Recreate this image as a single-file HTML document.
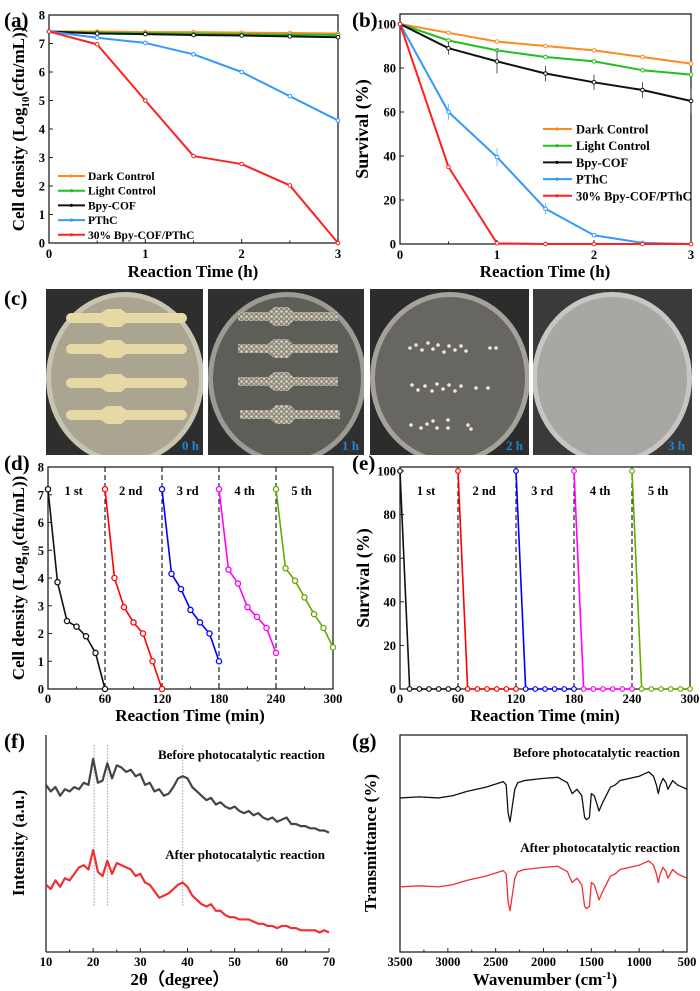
<!DOCTYPE html>
<html><head><meta charset="utf-8"><style>
html,body{margin:0;padding:0;background:#fff;}
svg{display:block;font-family:"Liberation Serif",serif;font-weight:bold;}
</style></head><body>
<svg id="fig" width="700" height="991" viewBox="0 0 700 991">
<defs>
<pattern id="speck" width="5" height="5" patternUnits="userSpaceOnUse"><rect width="5" height="5" fill="#8d8a7c"/><circle cx="1.5" cy="1.5" r="1.3" fill="#dcd8c6"/><circle cx="4" cy="3.8" r="1.1" fill="#cfcab6"/></pattern>
<clipPath id="c1"><rect x="46" y="289" width="157" height="166"/></clipPath>
<clipPath id="c2"><rect x="208" y="289" width="156" height="166"/></clipPath>
<clipPath id="c3"><rect x="370" y="289" width="159" height="166"/></clipPath>
<clipPath id="c4"><rect x="533" y="289" width="159" height="166"/></clipPath>
</defs>
<text x="4" y="27" font-size="21">(a)</text>
<text x="352" y="27" font-size="21">(b)</text>
<text x="4" y="305" font-size="21">(c)</text>
<text x="4" y="470" font-size="21">(d)</text>
<text x="352" y="470" font-size="21">(e)</text>
<text x="4" y="748" font-size="21">(f)</text>
<text x="352" y="748" font-size="21">(g)</text>

<g clip-path="url(#c1)">
<rect x="46" y="289" width="157" height="166" fill="#2e2e2e"/>
<ellipse cx="125" cy="378" rx="79" ry="86" fill="#c8c4b2"/>
<ellipse cx="125" cy="378" rx="74" ry="81" fill="#a9a591"/>
<g fill="#e6d9a4">
<path d="M71 313h30l6-4h14l5 4h56a5 5 0 0 1 0 10h-56l-5 4h-14l-6-4h-30a5 5 0 0 1 0-10z"/>
<path d="M71 344h30l6-4h14l5 4h56a5 5 0 0 1 0 10h-56l-5 4h-14l-6-4h-30a5 5 0 0 1 0-10z"/>
<path d="M71 378h30l6-4h14l5 4h56a5 5 0 0 1 0 10h-56l-5 4h-14l-6-4h-30a5 5 0 0 1 0-10z"/>
<path d="M71 410h30l6-4h14l5 4h56a5 5 0 0 1 0 10h-56l-5 4h-14l-6-4h-30a5 5 0 0 1 0-10z"/>
</g>
<text x="182" y="450" font-size="13" fill="#1b86d6">0 h</text>
</g>
<g clip-path="url(#c2)">
<rect x="208" y="289" width="156" height="166" fill="#303030"/>
<ellipse cx="287" cy="378" rx="79" ry="86" fill="#9c9a92"/>
<ellipse cx="287" cy="378" rx="74" ry="81" fill="#5e5e58"/>
<g fill="url(#speck)">
<path d="M238 312h30l6-5h14l5 5h45v9h-45l-5 5h-14l-6-5h-30z"/>
<path d="M238 344h30l6-5h14l5 5h45v9h-45l-5 5h-14l-6-5h-30z"/>
<path d="M238 377h30l6-5h14l5 5h45v9h-45l-5 5h-14l-6-5h-30z"/>
<path d="M240 410h30l6-5h14l5 5h45v9h-45l-5 5h-14l-6-5h-30z"/>
</g>
<text x="342" y="450" font-size="13" fill="#1b86d6">1 h</text>
</g>
<g clip-path="url(#c3)">
<rect x="370" y="289" width="159" height="166" fill="#2c2c2c"/>
<ellipse cx="450" cy="378" rx="80" ry="86" fill="#a4a29a"/>
<ellipse cx="450" cy="378" rx="75" ry="81" fill="#676660"/>
<g fill="#ece8d8">
<circle cx="410" cy="348" r="1.8"/><circle cx="416" cy="345" r="1.8"/><circle cx="422" cy="350" r="1.8"/><circle cx="428" cy="343" r="1.8"/><circle cx="433" cy="349" r="1.8"/><circle cx="438" cy="345" r="1.8"/><circle cx="444" cy="352" r="1.8"/><circle cx="449" cy="346" r="1.8"/><circle cx="455" cy="350" r="1.8"/><circle cx="461" cy="346" r="1.8"/><circle cx="466" cy="351" r="1.8"/><circle cx="490" cy="348" r="1.8"/><circle cx="496" cy="348" r="1.8"/>
<circle cx="412" cy="385" r="1.8"/><circle cx="418" cy="390" r="1.8"/><circle cx="425" cy="386" r="1.8"/><circle cx="432" cy="391" r="1.8"/><circle cx="437" cy="384" r="1.8"/><circle cx="443" cy="389" r="1.8"/><circle cx="449" cy="385" r="1.8"/><circle cx="455" cy="391" r="1.8"/><circle cx="461" cy="386" r="1.8"/><circle cx="476" cy="388" r="1.8"/><circle cx="488" cy="388" r="1.8"/>
<circle cx="411" cy="425" r="1.8"/><circle cx="421" cy="428" r="1.8"/><circle cx="427" cy="424" r="1.8"/><circle cx="433" cy="421" r="1.8"/><circle cx="437" cy="428" r="1.8"/><circle cx="448" cy="420" r="1.8"/><circle cx="448" cy="428" r="1.8"/><circle cx="468" cy="425" r="1.8"/><circle cx="471" cy="429" r="1.8"/>
</g>
<text x="506" y="450" font-size="13" fill="#1b86d6">2 h</text>
</g>
<g clip-path="url(#c4)">
<rect x="533" y="289" width="159" height="166" fill="#3a3a3a"/>
<ellipse cx="612" cy="378" rx="80" ry="86" fill="#c8c6c2"/>
<ellipse cx="612" cy="378" rx="75" ry="81" fill="#a9a7a4"/>
<text x="668" y="450" font-size="13" fill="#1b86d6">3 h</text>
</g>
<g id="charts"></g>
</svg>
<script>
const timeH = [0, 0.5, 1, 1.5, 2, 2.5, 3];
const aDark = [7.42, 7.42, 7.40, 7.40, 7.38, 7.37, 7.35];
const aLight = [7.42, 7.38, 7.36, 7.34, 7.32, 7.31, 7.30];
const aBpy = [7.42, 7.35, 7.33, 7.30, 7.28, 7.25, 7.22];
const aPThC = [7.42, 7.20, 7.02, 6.62, 6.00, 5.15, 4.30];
const aComp = [7.42, 6.97, 5.00, 3.05, 2.77, 2.02, 0.00];
const aTicksY = [0, 1, 2, 3, 4, 5, 6, 7, 8];
const hTicks = [0, 1, 2, 3];
const bDark = [100, 96, 92, 90, 88, 85, 82];
const bLight = [100, 92.5, 88, 85, 83, 79, 77];
const bBpy = [100, 89, 83, 77.5, 73.5, 70, 65];
const bPThC = [100, 60, 39.5, 16, 4, 0.5, 0];
const bComp = [100, 35, 0.3, 0, 0, 0, 0];
const bErrBpy = [0, 3, 5.5, 3.5, 3.5, 3.5, 5.5];
const bErrPThC = [0, 3.5, 4, 2.5, 0.5, 0, 0];
const bTicksY = [0, 20, 40, 60, 80, 100];
const seriesNames = ["Dark Control", "Light Control", "Bpy-COF", "PThC", "30% Bpy-COF/PThC"];
const seriesColors = ["#ff8a1c", "#20c020", "#111111", "#3399ff", "#ff2020"];
const cycleStep = [0, 10, 20, 30, 40, 50, 60];
const cycleStarts = [0, 60, 120, 180, 240];
const cycle1 = [7.2, 3.85, 2.45, 2.25, 1.9, 1.3, 0];
const cycle2 = [7.2, 4.0, 2.95, 2.4, 2.0, 1.0, 0];
const cycle3 = [7.2, 4.15, 3.6, 2.85, 2.4, 2.0, 1.0];
const cycle4 = [7.2, 4.3, 3.8, 2.95, 2.6, 2.2, 1.3];
const cycle5 = [7.2, 4.35, 3.9, 3.3, 2.7, 2.2, 1.5];
const survCycle = [100, 0, 0, 0, 0, 0, 0];
const cycleLabels = ["1 st", "2 nd", "3 rd", "4 th", "5 th"];
const cycleColors = ["#111111", "#ff0000", "#0000ff", "#ff00ff", "#66aa00"];
const minTicks = [0, 60, 120, 180, 240, 300];
const xrdStart = 10;
const xrdBefore = [77,74,76,72,75,74,76,75,78,77,89,78,79,87,80,86,85,83,84,81,82,77,78,74,75,72,73,76,80,81,80,76,74,72,70,71,68,69,67,66,67,65,64,65,63,64,62,61,62,60,61,62,59,59,58,58,57,57,56,56,55];
const xrdAfter = [31,29,33,30,34,33,36,39,40,38,47,37,35,42,36,41,40,39,38,35,36,32,31,28,25,26,27,29,31,32,30,26,24,22,21,22,19,19,17,16,16,15,15,15,14,13,13,12,12,11,12,12,11,11,10,10,10,10,9,10,9];
const xrdPeaks = [20.2, 23, 39];
const xrdTicks = [10, 20, 30, 40, 50, 60, 70];
const wn = [3500,3300,3100,2950,2800,2600,2420,2390,2370,2350,2330,2300,2270,2200,2000,1850,1750,1700,1650,1600,1570,1550,1520,1500,1470,1440,1420,1380,1300,1250,1200,1100,1000,950,900,850,820,800,780,750,720,700,650,600,550,500];
const irBefore = [71,71.5,71,72,74,76,78.5,77,64,60,66,75,78,79,80,80.5,78,73,75,72,62,61,62,73,72,68,65,69,76,77,79,80,81,82,83,81,77,73,77,80,78,75,79,77,76,75];
const irAfter = [30,30.5,30,31,33,35,37.5,36,23,19,25,34,37,38,39,39.5,37,32,34,31,21,20,21,32,31,27,24,28,35,36,38,39,40,41,42,40,36,32,36,39,37,34,38,36,35,34];
const wnTicks = [3500, 3000, 2500, 2000, 1500, 1000, 500];

const NS = "http://www.w3.org/2000/svg";
const root = document.getElementById("charts");
function mk(tag, attrs, parent) {
  const e = document.createElementNS(NS, tag);
  for (const k in attrs) e.setAttribute(k, attrs[k]);
  (parent || root).appendChild(e);
  return e;
}
function scale(d0, d1, r0, r1) { return v => r0 + (v - d0) / (d1 - d0) * (r1 - r0); }
function frame(g, x0, x1, y0, y1) {
  const r = mk("rect", {x: x0, y: y0, width: x1 - x0, height: y1 - y0, fill: "none", stroke: "#222", "stroke-width": 1.3}, g);
  
  
}
function xTicks(g, ticks, sx, yb, labY, minor) {
  ticks.forEach(t => {
    mk("line", {x1: sx(t), x2: sx(t), y1: yb, y2: yb - 4, stroke: "#222", "stroke-width": 1}, g);
    const tx = mk("text", {x: sx(t), y: labY, "font-size": 12.5, "text-anchor": "middle"}, g);
    tx.textContent = t;
    
    
  });
  (minor || []).forEach(t => mk("line", {x1: sx(t), x2: sx(t), y1: yb, y2: yb - 2.5, stroke: "#222", "stroke-width": 1}, g));
}
function yTicks(g, ticks, sy, xl, labels) {
  ticks.forEach(t => {
    mk("line", {x1: xl, x2: xl + 4, y1: sy(t), y2: sy(t), stroke: "#222", "stroke-width": 1}, g);
    if (labels) {
      const tx = mk("text", {x: xl - 4, y: sy(t) + 4.5, "font-size": 12.5, "text-anchor": "end"}, g);
      tx.textContent = t;
      
      
    }
  });
}
function title(g, txt, x, y, rot, name, fs) {
  const t = mk("text", {x: x, y: y, "font-size": fs || 17, "text-anchor": "middle"}, g);
  if (rot) t.setAttribute("transform", `rotate(-90 ${x} ${y})`);
  t.innerHTML = txt;
  
  
  return t;
}
function poly(g, xs, ys, sx, sy, color, w) {
  return mk("polyline", {points: xs.map((x, i) => sx(x) + "," + sy(ys[i])).join(" "), fill: "none", stroke: color, "stroke-width": w || 1.8, "stroke-linejoin": "round"}, g);
}

(function () {
  const g = mk("g", {});
  
  
  const sx = scale(0, 3, 49, 338), sy = scale(0, 8, 243, 15);
  frame(g, 49, 338, 15, 243);
  xTicks(g, hTicks, sx, 243, 258, [0.5, 1.5, 2.5]);
  yTicks(g, aTicksY, sy, 49, true);
  title(g, "Reaction Time (h)", 193, 277, false, "x-axis-title-a");
  title(g, 'Cell density (Log<tspan font-size="11" dy="5">10</tspan><tspan dy="-5">(cfu/mL))</tspan>', 24, 129, true, "y-axis-title-a");
  const data = [aDark, aLight, aBpy, aPThC, aComp];
  data.forEach((d, i) => {
    const s = poly(g, timeH, d, sx, sy, seriesColors[i], 2);
    
    
    d.forEach((v, j) => {
      const c = mk("circle", {cx: sx(timeH[j]), cy: sy(v), r: 1.8, fill: "#fff", stroke: seriesColors[i], "stroke-width": 1}, g);
      
      
    });
  });
  seriesNames.forEach((n, i) => {
    const y = 176 + i * 14.7;
    mk("line", {x1: 58, x2: 85, y1: y, y2: y, stroke: seriesColors[i], "stroke-width": 2}, g);
    mk("circle", {cx: 71.5, cy: y, r: 1.6, fill: seriesColors[i]}, g);
    const t = mk("text", {x: 88, y: y + 4, "font-size": 11.5}, g);
    t.textContent = n;
    
    
  });
})();

(function () {
  const g = mk("g", {});
  
  
  const sx = scale(0, 3, 400, 691), sy = scale(0, 100, 244, 24);
  frame(g, 400, 691, 14, 244);
  xTicks(g, hTicks, sx, 244, 259, [0.5, 1.5, 2.5]);
  yTicks(g, bTicksY, sy, 400, true);
  title(g, "Reaction Time (h)", 545, 277, false, "x-axis-title-b");
  title(g, "Survival (%)", 368, 129, true, "y-axis-title-b", 18);
  const data = [bDark, bLight, bBpy, bPThC, bComp];
  const errs = [null, null, bErrBpy, bErrPThC, null];
  data.forEach((d, i) => {
    const e = errs[i];
    if (e) d.forEach((v, j) => {
      if (e[j] > 0) mk("line", {x1: sx(timeH[j]), x2: sx(timeH[j]), y1: sy(v - e[j]), y2: sy(v + e[j]), stroke: i === 2 ? "#555" : "#7cc0ff", "stroke-width": 1}, g);
    });
    const s = poly(g, timeH, d, sx, sy, seriesColors[i], 2);
    
    
    d.forEach((v, j) => {
      const c = mk("circle", {cx: sx(timeH[j]), cy: sy(v), r: 1.8, fill: "#fff", stroke: seriesColors[i], "stroke-width": 1}, g);
      
      
    });
  });
  seriesNames.forEach((n, i) => {
    const y = 129 + i * 16.7;
    mk("line", {x1: 543, x2: 572, y1: y, y2: y, stroke: seriesColors[i], "stroke-width": 2}, g);
    mk("circle", {cx: 557, cy: y, r: 1.6, fill: seriesColors[i]}, g);
    const t = mk("text", {x: 576, y: y + 4.5, "font-size": 12.5}, g);
    t.textContent = n;
    
    
  });
})();

(function () {
  const g = mk("g", {});
  
  
  const sx = scale(0, 300, 48, 333), sy = scale(0, 8, 689, 467);
  frame(g, 48, 333, 467, 689);
  xTicks(g, minTicks, sx, 689, 703, [30, 90, 150, 210, 270]);
  yTicks(g, [0,1,2,3,4,5,6,7,8], sy, 48, true);
  title(g, "Reaction Time (min)", 190, 721, false, "x-axis-title-d");
  title(g, 'Cell density (Log<tspan font-size="11" dy="5">10</tspan><tspan dy="-5">(cfu/mL))</tspan>', 24, 578, true, "y-axis-title-d");
  cycleStarts.slice(1).forEach(s => {
    const l = mk("line", {x1: sx(s), x2: sx(s), y1: 467, y2: 689, stroke: "#222", "stroke-width": 1.2, "stroke-dasharray": "5,3"}, g);
    
    
  });
  const cycles = [cycle1, cycle2, cycle3, cycle4, cycle5];
  cycles.forEach((c, i) => {
    const xs = cycleStep.map(t => t + cycleStarts[i]);
    const p = poly(g, xs, c, sx, sy, cycleColors[i], 1.6);
    
    
    c.forEach((v, j) => {
      const m = mk("circle", {cx: sx(xs[j]), cy: sy(v), r: 2.6, fill: "#fff", stroke: cycleColors[i], "stroke-width": 1.3}, g);
      
      
    });
    const t = mk("text", {x: sx(cycleStarts[i] + 27), y: 495, "font-size": 12.5, "text-anchor": "middle"}, g);
    t.textContent = cycleLabels[i];
    
    
  });
})();

(function () {
  const g = mk("g", {});
  
  
  const sx = scale(0, 300, 400, 690), sy = scale(0, 100, 689, 471);
  frame(g, 400, 690, 467, 689);
  xTicks(g, minTicks, sx, 689, 703, [30, 90, 150, 210, 270]);
  yTicks(g, [0, 20, 40, 60, 80, 100], sy, 400, true);
  title(g, "Reaction Time (min)", 545, 721, false, "x-axis-title-e");
  title(g, "Survival (%)", 369, 578, true, "y-axis-title-e", 18);
  cycleStarts.slice(1).forEach(s => {
    const l = mk("line", {x1: sx(s), x2: sx(s), y1: 467, y2: 689, stroke: "#222", "stroke-width": 1.2, "stroke-dasharray": "5,3"}, g);
    
    
  });
  cycleStarts.forEach((s0, i) => {
    const xs = cycleStep.map(t => t + s0);
    const p = poly(g, xs, survCycle, sx, sy, cycleColors[i], 1.6);
    
    
    survCycle.forEach((v, j) => {
      const m = mk("circle", {cx: sx(xs[j]), cy: sy(v), r: 2.3, fill: "#fff", stroke: cycleColors[i], "stroke-width": 1.2}, g);
      
      
    });
    const t = mk("text", {x: sx(s0 + 27), y: 495, "font-size": 12.5, "text-anchor": "middle"}, g);
    t.textContent = cycleLabels[i];
    
    
  });
})();

(function () {
  const g = mk("g", {});
  
  
  const sx = scale(10, 70, 46, 329), sy = scale(0, 100, 952, 735);
  mk("line", {x1: 46, x2: 46, y1: 735, y2: 952, stroke: "#222", "stroke-width": 1.3}, g);
  mk("line", {x1: 46, x2: 329, y1: 952, y2: 952, stroke: "#222", "stroke-width": 1.3}, g);
  xTicks(g, xrdTicks, sx, 952, 966, [15, 25, 35, 45, 55, 65]);
  title(g, "2θ（degree）", 180, 985, false, "x-axis-title-f");
  title(g, "Intensity (a.u.)", 24, 843, true, "y-axis-title-f");
  xrdPeaks.forEach(p => {
    const l = mk("line", {x1: sx(p), x2: sx(p), y1: 745, y2: 907, stroke: "#888", "stroke-width": 0.8, "stroke-dasharray": "1.5,1.5"}, g);
    
    
  });
  const xs = xrdBefore.map((_, i) => xrdStart + i);
  const b = poly(g, xs, xrdBefore, sx, sy, "#444", 2.2);
  
  
  const a = poly(g, xs, xrdAfter, sx, sy, "#f03030", 2.2);
  
  
  let t = mk("text", {x: 325, y: 759, "font-size": 13, "text-anchor": "end"}, g);
  t.textContent = "Before photocatalytic reaction";
  
  
  t = mk("text", {x: 325, y: 859, "font-size": 13, "text-anchor": "end"}, g);
  t.textContent = "After photocatalytic reaction";
  
  
})();

(function () {
  const g = mk("g", {});
  
  
  const sx = scale(3500, 500, 400, 687), sy = scale(0, 100, 952, 735);
  frame(g, 400, 687, 735, 952);
  xTicks(g, wnTicks, sx, 952, 966, [3250, 2750, 2250, 1750, 1250, 750]);
  title(g, 'Wavenumber (cm<tspan font-size="11" dy="-6">-1</tspan><tspan dy="6">)</tspan>', 545, 985, false, "x-axis-title-g");
  title(g, "Transmittance (%)", 376, 843, true, "y-axis-title-g");
  const b = poly(g, wn, irBefore, sx, sy, "#111", 1.3);
  
  
  const a = poly(g, wn, irAfter, sx, sy, "#f03030", 1.3);
  
  
  let t = mk("text", {x: 680, y: 757, "font-size": 13, "text-anchor": "end"}, g);
  t.textContent = "Before photocatalytic reaction";
  
  
  t = mk("text", {x: 680, y: 852, "font-size": 13, "text-anchor": "end"}, g);
  t.textContent = "After photocatalytic reaction";
  
  
})();
</script>
</body></html>
